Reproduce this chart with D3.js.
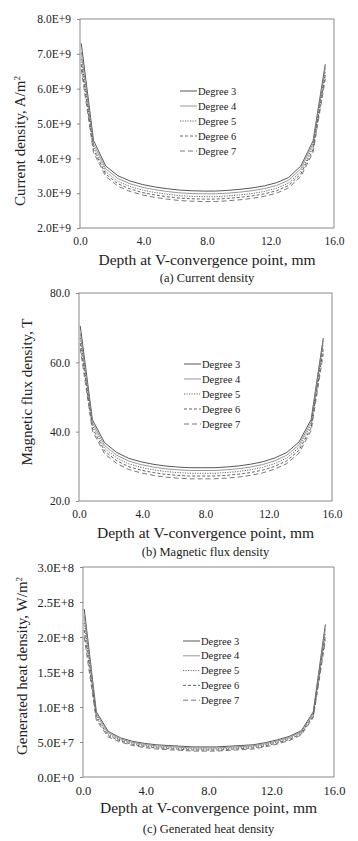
<!DOCTYPE html>
<html><head><meta charset="utf-8">
<script src="https://cdn.jsdelivr.net/npm/d3@7"></script>
<style>
html,body{margin:0;padding:0;background:#fff;}
svg{display:block;font-family:"Liberation Serif","Times New Roman",serif;}
svg text{font-family:"Liberation Serif","Times New Roman",serif;}
</style></head>
<body><svg id="c" width="358" height="841"></svg>
<script>
// Depth at V-convergence point, mm
const depth = [0.08,0.85,1.62,2.39,3.15,3.92,4.69,5.46,6.23,7.0,7.77,8.53,9.3,10.07,10.84,11.61,12.38,13.14,13.91,14.68,15.45];
const seriesNames = ["Degree 3","Degree 4","Degree 5","Degree 6","Degree 7"];

// (a) Current density, units of 1E+9 A/m^2
const currentDeg3 = [7.30,4.52,3.78,3.50,3.35,3.25,3.18,3.13,3.09,3.07,3.06,3.06,3.08,3.11,3.15,3.21,3.30,3.45,3.78,4.50,6.70];
const currentDeg4 = [7.05,4.42,3.70,3.42,3.27,3.17,3.10,3.05,3.01,2.99,2.98,2.98,3.00,3.03,3.07,3.13,3.22,3.37,3.70,4.42,6.60];
const currentDeg5 = [6.85,4.33,3.62,3.34,3.19,3.09,3.02,2.97,2.93,2.91,2.90,2.90,2.92,2.95,2.99,3.05,3.14,3.29,3.62,4.33,6.48];
const currentDeg6 = [6.70,4.25,3.55,3.27,3.12,3.02,2.95,2.90,2.86,2.84,2.83,2.83,2.85,2.88,2.92,2.98,3.07,3.22,3.55,4.25,6.38];
const currentDeg7 = [6.55,4.17,3.48,3.20,3.05,2.95,2.88,2.83,2.79,2.77,2.76,2.76,2.78,2.81,2.85,2.91,3.00,3.15,3.48,4.17,6.28];
const currentTicks = [2,3,4,5,6,7,8];
const currentTickLabels = ["2.0E+9","3.0E+9","4.0E+9","5.0E+9","6.0E+9","7.0E+9","8.0E+9"];

// (b) Magnetic flux density, T
const fluxDeg3 = [70.5,43.4,36.8,34.0,32.3,31.3,30.6,30.1,29.8,29.6,29.6,29.6,29.8,30.1,30.6,31.3,32.4,34.0,37.0,43.5,67.0];
const fluxDeg4 = [68.5,42.6,36.0,33.2,31.5,30.5,29.8,29.3,29.0,28.8,28.8,28.8,29.0,29.3,29.8,30.5,31.6,33.2,36.2,42.7,66.3];
const fluxDeg5 = [67.0,41.8,35.2,32.4,30.7,29.7,29.0,28.5,28.2,28.0,28.0,28.0,28.2,28.5,29.0,29.7,30.8,32.4,35.4,41.9,65.3];
const fluxDeg6 = [65.5,41.0,34.4,31.6,29.9,28.9,28.2,27.7,27.4,27.2,27.2,27.2,27.4,27.7,28.2,28.9,30.0,31.6,34.6,41.1,64.0];
const fluxDeg7 = [64.0,40.2,33.6,30.8,29.1,28.1,27.4,26.9,26.6,26.4,26.4,26.4,26.6,26.9,27.4,28.1,29.2,30.8,33.8,40.3,62.5];
const fluxTicks = [20,40,60,80];
const fluxTickLabels = ["20.0","40.0","60.0","80.0"];

// (c) Generated heat density, units of 1E+8 W/m^2
const heatDeg3 = [2.40,0.93,0.65,0.56,0.51,0.48,0.46,0.45,0.44,0.43,0.43,0.43,0.44,0.45,0.46,0.49,0.53,0.58,0.66,0.93,2.18];
const heatDeg4 = [2.30,0.90,0.63,0.545,0.495,0.465,0.445,0.435,0.425,0.415,0.415,0.415,0.425,0.435,0.445,0.475,0.515,0.565,0.645,0.91,2.12];
const heatDeg5 = [2.20,0.87,0.61,0.53,0.48,0.45,0.43,0.42,0.41,0.40,0.40,0.40,0.41,0.42,0.43,0.46,0.50,0.55,0.63,0.89,2.05];
const heatDeg6 = [2.10,0.84,0.59,0.515,0.465,0.435,0.415,0.405,0.395,0.385,0.385,0.385,0.395,0.405,0.415,0.445,0.485,0.535,0.615,0.87,2.00];
const heatDeg7 = [2.00,0.81,0.57,0.50,0.45,0.42,0.40,0.39,0.38,0.37,0.37,0.37,0.38,0.39,0.40,0.43,0.47,0.52,0.60,0.85,1.95];
const heatTicks = [0,0.5,1,1.5,2,2.5,3];
const heatTickLabels = ["0.0E+0","5.0E+7","1.0E+8","1.5E+8","2.0E+8","2.5E+8","3.0E+8"];

const xTicks = [0,4,8,12,16];
const xTickLabels = ["0.0","4.0","8.0","12.0","16.0"];

const FONT = "Liberation Serif, Times New Roman, serif";

const styles = [
  {stroke:"#444", dash:null, w:0.9},
  {stroke:"#8c8c8c", dash:null, w:0.9},
  {stroke:"#555", dash:"1.2,1.3", w:0.9},
  {stroke:"#555", dash:"3,2", w:0.9},
  {stroke:"#6a6a6a", dash:"5,3", w:0.9}
];

const svg = d3.select("#c");

function panel(o){
  const g = svg.append("g");
  const x = d3.scaleLinear().domain([0,16]).range([o.left,o.right]);
  const y = d3.scaleLinear().domain(o.ydom).range([o.bottom,o.top]);
  // frame
  g.append("rect").attr("x",o.left).attr("y",o.top)
    .attr("width",o.right-o.left).attr("height",o.bottom-o.top)
    .attr("fill","none").attr("stroke","#8a8a8a").attr("stroke-width",1);
  // y axis
  const ya = d3.axisLeft(y).tickValues(o.yticks).tickSize(3).tickPadding(6)
    .tickFormat((d,i)=>o.ylabels[i]);
  const yg = g.append("g").attr("transform",`translate(${o.left},0)`).call(ya)
    .attr("font-family",FONT);
  yg.select(".domain").remove();
  yg.selectAll(".tick line").attr("stroke","#8a8a8a");
  yg.selectAll("text").attr("font-size",o.tickFont).attr("fill","#222");
  // x axis
  const xa = d3.axisBottom(x).tickValues(xTicks).tickSize(0).tickPadding(o.xpad)
    .tickFormat((d,i)=>xTickLabels[i]);
  const xg = g.append("g").attr("transform",`translate(0,${o.bottom})`).call(xa)
    .attr("font-family",FONT);
  xg.select(".domain").remove();
  xg.selectAll("text").attr("font-size",o.tickFont).attr("fill","#222");
  // lines
  const line = d3.line().x((d,i)=>x(depth[i])).y(d=>y(d));
  o.series.forEach((s,k)=>{
    g.append("path").datum(s).attr("d",line).attr("fill","none")
      .attr("stroke",styles[k].stroke).attr("stroke-width",styles[k].w)
      .attr("stroke-dasharray",styles[k].dash);
  });
  // legend
  seriesNames.forEach((n,k)=>{
    const ly = o.legY + k*o.legStep;
    g.append("line").attr("x1",o.legX).attr("x2",o.legX+17).attr("y1",ly).attr("y2",ly)
      .attr("stroke",styles[k].stroke).attr("stroke-width",styles[k].w)
      .attr("stroke-dasharray",styles[k].dash);
    g.append("text").attr("x",o.legX+18).attr("y",ly+3.5).attr("font-size",10.5)
      .attr("font-family",FONT).attr("fill","#222").text(n);
  });
  // x title
  g.append("text").attr("x",(o.left+o.right)/2).attr("y",o.xTitleY)
    .attr("text-anchor","middle").attr("font-size",15.5).attr("font-family",FONT)
    .attr("fill","#222").text("Depth at V-convergence point, mm");
  // y title
  const yt = g.append("text").attr("transform",`translate(${o.yTitleX},${o.yTitleY}) rotate(-90)`)
    .attr("text-anchor","middle").attr("font-size",15).attr("font-family",FONT).attr("fill","#222");
  yt.text(o.ytitle);
  if(o.ysup){ yt.append("tspan").attr("baseline-shift","super").attr("font-size",9).text(o.ysup); }
  // caption
  g.append("text").attr("x",(o.left+o.right)/2).attr("y",o.capY)
    .attr("text-anchor","middle").attr("font-size",12.5).attr("font-family",FONT)
    .attr("fill","#222").text(o.caption);
}

panel({left:80,right:334,top:19,bottom:228,ydom:[2,8],yticks:currentTicks,ylabels:currentTickLabels,
  series:[currentDeg3,currentDeg4,currentDeg5,currentDeg6,currentDeg7],
  tickFont:11.5,xpad:9,legX:180,legY:91,legStep:15,xTitleY:265,yTitleX:25,yTitleY:141,
  ytitle:"Current density, A/m",ysup:"2",caption:"(a) Current density",capY:282});

panel({left:79,right:332,top:293,bottom:501,ydom:[20,80],yticks:fluxTicks,ylabels:fluxTickLabels,
  series:[fluxDeg3,fluxDeg4,fluxDeg5,fluxDeg6,fluxDeg7],
  tickFont:11.5,xpad:9,legX:184,legY:364,legStep:15,xTitleY:538,yTitleX:32,yTitleY:392,
  ytitle:"Magnetic flux density, T",ysup:null,caption:"(b) Magnetic flux density",capY:556});

panel({left:83,right:334,top:567,bottom:777,ydom:[0,3],yticks:heatTicks,ylabels:heatTickLabels,
  series:[heatDeg3,heatDeg4,heatDeg5,heatDeg6,heatDeg7],
  tickFont:12.5,xpad:9,legX:183,legY:641,legStep:14.8,xTitleY:813,yTitleX:27,yTitleY:666,
  ytitle:"Generated heat density, W/m",ysup:"2",caption:"(c) Generated heat density",capY:833});
</script></body></html>
